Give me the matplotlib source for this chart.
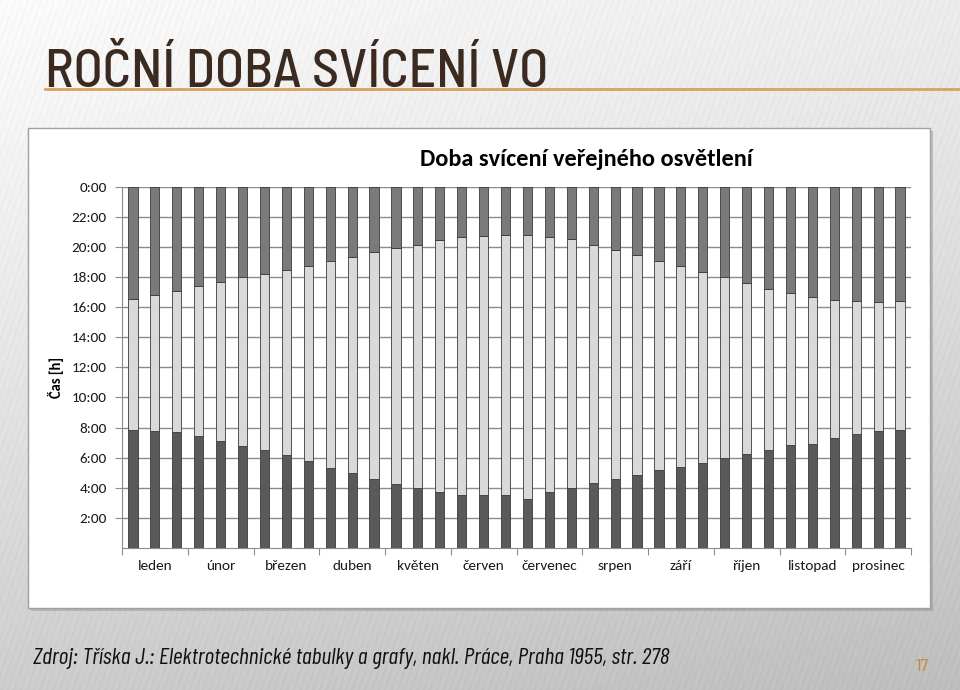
import matplotlib
matplotlib.use("Agg")
import matplotlib.pyplot as plt
import numpy as np
from matplotlib.patches import Rectangle
from matplotlib.ticker import FixedLocator, FuncFormatter

# data (decimal hours), 3 values per month
months = ["leden", "únor", "březen", "duben", "květen", "červen",
          "červenec", "srpen", "září", "říjen", "listopad", "prosinec"]
morning_end = [7.83, 7.77, 7.68, 7.41, 7.08, 6.75, 6.51, 6.15, 5.76,
               5.34, 5.01, 4.59, 4.25, 3.99, 3.72, 3.50, 3.50, 3.50,
               3.26, 3.75, 4.01, 4.34, 4.59, 4.83, 5.18, 5.40, 5.67,
               5.98, 6.24, 6.51, 6.84, 6.93, 7.33, 7.57, 7.74, 7.83]
evening_start = [16.54, 16.83, 17.07, 17.40, 17.65, 18.00, 18.22, 18.49, 18.75,
                 19.06, 19.31, 19.66, 19.90, 20.15, 20.44, 20.68, 20.75, 20.81,
                 20.81, 20.66, 20.50, 20.15, 19.82, 19.48, 19.09, 18.75, 18.31,
                 18.00, 17.58, 17.23, 16.92, 16.65, 16.47, 16.39, 16.32, 16.41]
hour_ticks = [2, 4, 6, 8, 10, 12, 14, 16, 18, 20, 22, 24]

W, H = 960, 690
chart_font = ["Carlito", "DejaVu Sans"]
slide_font = ["Barlow Semi Condensed", "Barlow Condensed", "DejaVu Sans"]

fig = plt.figure(figsize=(W / 100, H / 100), dpi=100)
renderer = fig.canvas.get_renderer()


def fit_width(t, target_px):
    # shrink/grow a text so it spans the same width as in the slide
    w = t.get_window_extent(renderer).width
    t.set_fontsize(t.get_fontsize() * target_px / w)


# slide background: light gradient with fine slanted stripes
bg = fig.add_axes([0, 0, 1, 1])
yy, xx = np.mgrid[0:H, 0:W]
grad = 0.985 - 0.18 * (yy / H) ** 1.2 - 0.06 * (xx / W)
stripes = np.sin((xx + 0.35 * yy) * 2 * np.pi / 6.5)
grad = grad - 0.018 * (stripes > 0.5)
bg.imshow(np.clip(grad, 0, 1), cmap="gray", vmin=0, vmax=1, aspect="auto",
          extent=[0, W, H, 0], interpolation="bilinear")
bg.set_xlim(0, W)
bg.set_ylim(H, 0)
bg.axis("off")

title = bg.text(45, 87, "ROČNÍ DOBA SVÍCENÍ VO", fontsize=40, color="#3b2a1f",
                family=slide_font, fontweight="medium", va="baseline", ha="left")
fit_width(title, 503)
bg.plot([45, 960], [89, 89], color="#d9a25c", lw=2)

# chart panel with shadow
bg.add_patch(Rectangle((31, 131), 902, 480, facecolor="#8f8f8f", edgecolor="none", alpha=0.45))
bg.add_patch(Rectangle((28, 128), 902, 480, facecolor="white", edgecolor="#a0a0a0", lw=1))

src = bg.text(33, 664, "Zdroj: Tříska J.: Elektrotechnické tabulky a grafy, nakl. Práce, Praha 1955, str. 278",
              fontsize=18, style="italic", color="#111111",
              family=["Barlow Condensed", "DejaVu Sans"], va="baseline", ha="left")
fit_width(src, 637)
bg.text(922, 671, "17", fontsize=13, color="#c8892f",
        family=slide_font, va="baseline", ha="center")

bg.text(586, 160, "Doba svícení veřejného osvětlení", fontsize=17.5, fontweight="bold",
        family=chart_font, ha="center", va="center")
bg.text(56, 378, "Čas [h]", fontsize=10.5, fontweight="bold", rotation=90,
        family=chart_font, ha="center", va="center")

# bar chart
ax = fig.add_axes([122 / W, 142 / H, 789 / W, 361.3 / H])
x = np.arange(len(morning_end))
m = np.array(morning_end)
e = np.array(evening_start)
bw = 0.42
ax.bar(x, m, width=bw, color="#5a5a5a", edgecolor="#3a3a3a", lw=0.6, zorder=3)
ax.bar(x, e - m, bottom=m, width=bw, color="#d9d9d9", edgecolor="#3a3a3a", lw=0.6, zorder=3)
ax.bar(x, 24 - e, bottom=e, width=bw, color="#7a7a7a", edgecolor="#3a3a3a", lw=0.6, zorder=3)

ax.set_xlim(-0.5, len(x) - 0.5)
ax.set_ylim(0, 24)
ax.yaxis.set_major_locator(FixedLocator(hour_ticks))
ax.yaxis.set_major_formatter(FuncFormatter(lambda v, p: "%d:00" % (int(round(v)) % 24)))
ax.grid(axis="y", color="#8c8c8c", lw=1, zorder=0)
ax.set_axisbelow(True)

ax.set_xticks(np.arange(-0.5, len(x), 3))
ax.set_xticklabels([])
ax.set_xticks(np.arange(1, len(x), 3), minor=True)
ax.set_xticklabels(months, minor=True)
ax.tick_params(axis="x", which="major", length=5, color="#8c8c8c", direction="out")
ax.tick_params(axis="x", which="minor", length=0, pad=9)
ax.tick_params(axis="y", length=5, color="#8c8c8c", pad=6)
for lab in ax.get_xticklabels(minor=True) + ax.get_yticklabels():
    lab.set_fontfamily(chart_font)
    lab.set_fontsize(11)
    lab.set_color("#1a1a1a")

for s in ["top", "right"]:
    ax.spines[s].set_visible(False)
ax.spines["left"].set_color("#8c8c8c")
ax.spines["bottom"].set_color("#8c8c8c")
ax.patch.set_alpha(0)

fig.savefig("out.png", dpi=100)
